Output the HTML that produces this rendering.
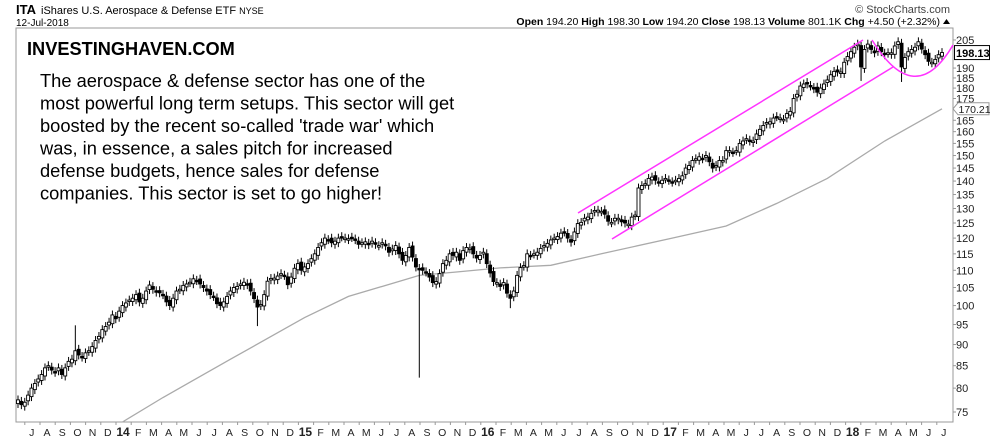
<!DOCTYPE html>
<html><head><meta charset="utf-8"><style>
body{margin:0;background:#fff;width:990px;height:438px;overflow:hidden;font-family:"Liberation Sans",sans-serif}
svg{position:absolute;left:0;top:0}
</style></head><body>
<svg id="chart" width="990" height="438" viewBox="0 0 990 438">
  <text x="16" y="14" font-size="13" font-weight="bold" fill="#000">ITA</text>
  <text x="41" y="14" font-size="11" fill="#000">iShares U.S. Aerospace &amp; Defense ETF <tspan font-size="9">NYSE</tspan></text>
  <text x="16" y="26" font-size="10" fill="#000">12-Jul-2018</text>
  <text x="950" y="13" font-size="11" fill="#444" text-anchor="end">© StockCharts.com</text>
  <text x="940" y="25" font-size="10.5" fill="#000" text-anchor="end"><tspan font-weight="bold">Open</tspan> 194.20 <tspan font-weight="bold">High</tspan> 198.30 <tspan font-weight="bold">Low</tspan> 194.20 <tspan font-weight="bold">Close</tspan> 198.13 <tspan font-weight="bold">Volume</tspan> 801.1K <tspan font-weight="bold">Chg</tspan> +4.50 (+2.32%)</text>
  <path d="M943 24 L950 24 L946.5 19 Z" fill="#000"/>
  <rect x="16" y="28" width="937" height="394" fill="none" stroke="#999" stroke-width="1"/>
  <g id="ma"></g>
  <g id="candles"></g>
  <g id="annot" fill="none" stroke="#ff33ff" stroke-width="1.5">
    <line x1="578" y1="213" x2="863" y2="40"/>
    <line x1="612" y1="239" x2="893" y2="67"/>
    <path d="M872 40 Q915 110 953 45"/>
  </g>
  <g id="yaxis"></g>
  <g id="xaxis"></g>
  <text x="27" y="55" font-size="18.2" font-weight="bold" fill="#000">INVESTINGHAVEN.COM</text>
  <g font-size="18.3" fill="#000">
    <text x="40" y="87">The aerospace &amp; defense sector has one of the</text>
    <text x="40" y="109.5">most powerful long term setups. This sector will get</text>
    <text x="40" y="132">boosted by the recent so-called 'trade war' which</text>
    <text x="40" y="154.5">was, in essence, a sales pitch for increased</text>
    <text x="40" y="177">defense budgets, hence sales for defense</text>
    <text x="40" y="199.5">companies. This sector is set to go higher!</text>
  </g>
</svg>
<script>
const closes = [77.5,76.5,77,78.5,80,81,82,83,84.5,85,84,83.5,84.5,83,84.5,86,86.5,88.5,87.5,87,88,88.5,89.5,91,92,93.7,94.5,95.6,97.5,96.5,98.5,100,100.7,101.5,102,103,101,102,104,105.7,104.5,103.7,103.5,
103,101,100,102,104,104.5,105.6,106,106.5,107.5,107,106,105,104,103,102.5,100.5,100,101,102.5,104,105,105.3,106,106.5,105.8,104,101.9,99.6,100.3,103,106.8,107.6,107.7,108.3,109,108.5,105.8,108,110.6,112,
110,111,112,113.5,115,117,118.5,120,119.5,118.5,119,120,120.4,120,119.8,120.2,119.5,118,118.5,118.8,117.9,119,118,117.6,118.5,117.5,115.5,116.5,117.6,115,113,114.5,117,114,111,110.3,110,109.5,108,106.4,106.7,109,112,113,115,
114.5,115.5,113,116,117,116.8,115,113.7,114.5,115.5,112,109.2,106.7,106.4,105.3,106.4,103.4,102,104,108.5,110.8,111.4,115,114.5,115,115.5,116.7,117.6,118.3,119.4,120,120.5,121.6,122,120,118.7,122,124.8,125.2,126.6,127,128.3,129.3,
129.4,129,128,125.6,125.2,126.6,126.6,125.4,125,124.6,127,127.7,137.4,138.3,139,141,141.5,140.3,139.6,140.3,141,140.3,139.6,140.3,141,142,145,146,148,148.7,149.5,148.7,150,147.5,145,146,148,148,152,152,151.3,152,155,156,157,156,156,159,161,162.7,164,
164.3,166,166.6,166,165.4,168,169,175,177,181,182,182,181,179.7,178,180,182,184,186.6,188.3,188,188,193,196,198.6,201,202.7,190.6,199.8,202.7,199.8,198,201.7,198.6,197,198,198,201.7,204,190.6,195.5,198.6,199.8,201,204,200,197,193.5,193,194.5,197,198.13];
const lowOverrideIdx = [71,119,146,250,262];
const lowOverrideVal = [94.6,82.3,99.3,183.5,183];
const highOverrideIdx = [17,250];
const highOverrideVal = [94.8,204];
const maIdx = [31,43,63,85,98,119,130,143,158,173,194,210,225,240,257,274];
const maVals = [73,78,86.5,96.8,102.5,108.5,109.5,110.7,111.5,115,120,124,131.8,141,156,170.21];
const yTicks = [75,80,85,90,95,100,105,110,115,120,125,130,135,140,145,150,155,160,165,170,175,180,185,190,205];
const monthLabels = ["J","A","S","O","N","D","14","F","M","A","M","J","J","A","S","O","N","D","15","F","M","A","M","J","J","A","S","O","N","D","16","F","M","A","M","J","J","A","S","O","N","D","17","F","M","A","M","J","J","A","S","O","N","D","18","F","M","A","M","J","J"];

const NS="http://www.w3.org/2000/svg";
const N=closes.length;
function xs(i){return 18+i*(924/(N-1));}
function ys(v){return 412-370*Math.log(v/75);}
function mk(tag,attrs,parent){const e=document.createElementNS(NS,tag);for(const k in attrs)e.setAttribute(k,attrs[k]);parent.appendChild(e);return e;}

const cg=document.getElementById('candles');
for(let i=0;i<N;i++){
  const c=closes[i], o=i>0?closes[i-1]*(i%3===0?1.004:0.996):c*0.99;
  let hi=Math.max(o,c)*1.012, lo=Math.min(o,c)*0.988;
  const li=lowOverrideIdx.indexOf(i); if(li>=0) lo=lowOverrideVal[li];
  const hiI=highOverrideIdx.indexOf(i); if(hiI>=0) hi=highOverrideVal[hiI];
  const x=xs(i);
  const g=mk('g',{},cg);
  
  
  mk('line',{x1:x,x2:x,y1:ys(hi),y2:ys(lo),stroke:'#000','stroke-width':1},g);
  const top=ys(Math.max(o,c)), bot=ys(Math.min(o,c));
  mk('rect',{x:x-1.5,y:top,width:3,height:Math.max(1.5,bot-top),fill:c<o?'#000':'#fff',stroke:'#000','stroke-width':0.9},g);
}
const mg=document.getElementById('ma');
let d='';
for(let i=0;i<maIdx.length;i++){d+=(i?'L':'M')+xs(maIdx[i]).toFixed(1)+' '+Math.min(422,ys(maVals[i])).toFixed(1);}
const mp=mk('path',{d:d,fill:'none',stroke:'#aaa','stroke-width':1.3},mg);



const ya=document.getElementById('yaxis');
yTicks.forEach(v=>{
  const y=ys(v);
  const t=mk('text',{x:956,y:y+4,'font-size':11,fill:'#222'},ya);
  t.textContent=v;
  
  
  mk('line',{x1:953,x2:956,y1:y,y2:y,stroke:'#999'},ya);
});
const lastV=closes[N-1];
const lb=mk('g',{},ya);


mk('rect',{x:954.5,y:ys(lastV)-7,width:35,height:14,fill:'#fff',stroke:'#000','stroke-width':1},lb);
mk('text',{x:956,y:ys(lastV)+4.5,'font-size':11,'font-weight':'bold',fill:'#000'},lb).textContent=lastV.toFixed(2);
const maLast=maVals[maVals.length-1];
const mb=mk('g',{},ya);


mk('path',{d:`M953 ${ys(maLast)} L958 ${ys(maLast)-6} L989 ${ys(maLast)-6} L989 ${ys(maLast)+6} L958 ${ys(maLast)+6} Z`,fill:'#fff',stroke:'#999'},mb);
mk('text',{x:958.5,y:ys(maLast)+4,'font-size':10.5,fill:'#222'},mb).textContent=maLast.toFixed(2);

const xa=document.getElementById('xaxis');
monthLabels.forEach((m,k)=>{
  const x=123+(k-6)*15.2;
  const isYear=/\d/.test(m);
  const t=mk('text',{x:x,y:436,'font-size':isYear?12:10.5,'font-weight':isYear?'bold':'normal','text-anchor':'middle',fill:'#222'},xa);
  t.textContent=m;
  
  
  mk('line',{x1:x-7,x2:x-7,y1:422,y2:425,stroke:'#999'},xa);
});
</script>
</body></html>
